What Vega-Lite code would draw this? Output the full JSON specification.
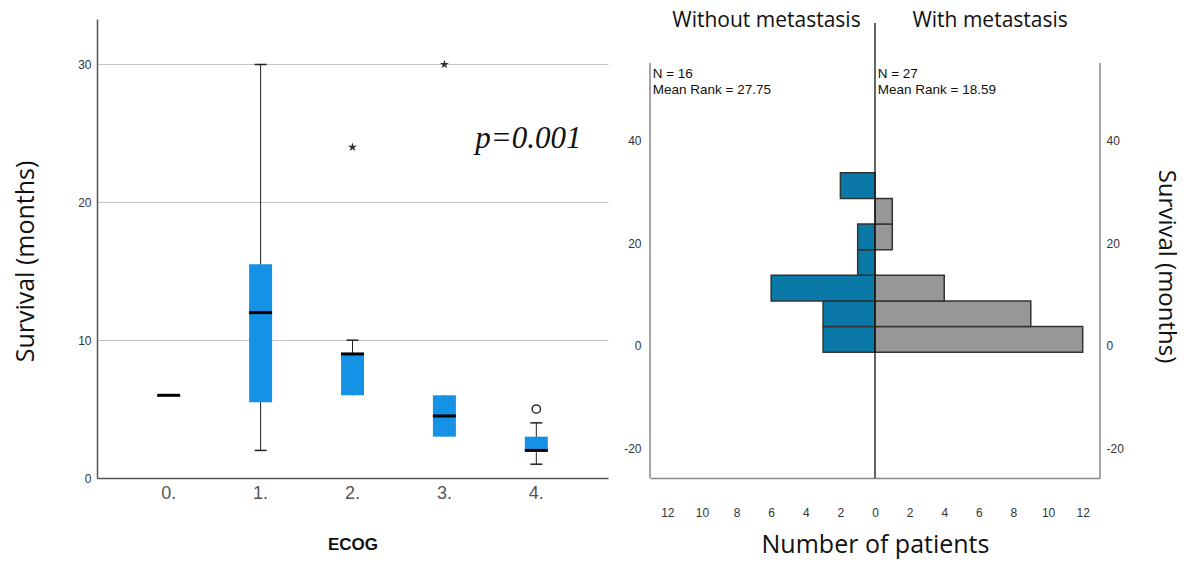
{
  "$schema": "https://vega.github.io/schema/vega-lite/v6.json",
  "background": "white",
  "padding": {"left": 13, "top": 10, "right": 6, "bottom": 6},
  "config": {"view": {"stroke": null}, "font": "Liberation Sans", "axis": {"labelOverlap": false}},
  "spacing": 42,
  "bounds": "flush",
  "datasets": {
    "boxes": [
      {"ecog": "0.", "lower": 6, "q1": 6, "median": 6, "q3": 6, "upper": 6},
      {"ecog": "1.", "lower": 2, "q1": 5.5, "median": 12, "q3": 15.5, "upper": 30},
      {"ecog": "2.", "lower": 6, "q1": 6, "median": 9, "q3": 9, "upper": 10},
      {"ecog": "3.", "lower": 3, "q1": 3, "median": 4.5, "q3": 6, "upper": 6},
      {"ecog": "4.", "lower": 1, "q1": 2, "median": 2, "q3": 3, "upper": 4}
    ],
    "outliers": [
      {"ecog": "2.", "survival": 24, "kind": "extreme"},
      {"ecog": "3.", "survival": 30, "kind": "extreme"},
      {"ecog": "4.", "survival": 5, "kind": "outlier"}
    ],
    "hist": [
      {"group": "Without metastasis", "bin_start": -1.2, "bin_end": 3.8, "count": 3},
      {"group": "Without metastasis", "bin_start": 3.8, "bin_end": 8.8, "count": 3},
      {"group": "Without metastasis", "bin_start": 8.8, "bin_end": 13.8, "count": 6},
      {"group": "Without metastasis", "bin_start": 13.8, "bin_end": 18.8, "count": 1},
      {"group": "Without metastasis", "bin_start": 18.8, "bin_end": 23.8, "count": 1},
      {"group": "Without metastasis", "bin_start": 28.8, "bin_end": 33.8, "count": 2},
      {"group": "With metastasis", "bin_start": -1.2, "bin_end": 3.8, "count": 12},
      {"group": "With metastasis", "bin_start": 3.8, "bin_end": 8.8, "count": 9},
      {"group": "With metastasis", "bin_start": 8.8, "bin_end": 13.8, "count": 4},
      {"group": "With metastasis", "bin_start": 18.8, "bin_end": 23.8, "count": 1},
      {"group": "With metastasis", "bin_start": 23.8, "bin_end": 28.8, "count": 1}
    ]
  },
  "hconcat": [
    {
      "width": 511,
      "height": 459,
      "layer": [
        {
          "data": {"name": "boxes"},
          "mark": {"type": "rule", "color": "#222", "strokeWidth": 1},
          "encoding": {
            "x": {
              "field": "ecog", "type": "nominal",
              "scale": {"paddingOuter": 0.28, "paddingInner": 0},
              "axis": {
                "title": "ECOG", "titleFont": "Liberation Sans", "titleFontWeight": "bold", "titleFontSize": 17, "titleColor": "#111", "titlePadding": 34,
                "labelFont": "Liberation Sans", "labelFontSize": 18, "labelColor": "#555", "labelAngle": 0, "labelPadding": 6,
                "ticks": false, "domainColor": "#555", "domainWidth": 1.5
              }
            },
            "y": {
              "field": "lower", "type": "quantitative",
              "scale": {"domain": [0, 33.3], "nice": false, "zero": false},
              "axis": {
                "title": "Survival (months)", "titleFont": "Open Sans", "titleFontWeight": "normal", "titleFontSize": 25, "titleColor": "#111", "titlePadding": 39, "titleY": 242,
                "values": [0, 10, 20, 30], "labelFont": "Liberation Sans", "labelFontSize": 12, "labelColor": "#333", "labelPadding": 6,
                "ticks": false, "domainColor": "#555", "domainWidth": 1.5,
                "grid": true, "gridColor": "#c4c4c4", "gridWidth": 1.2
              }
            },
            "y2": {"field": "upper"}
          }
        },
        {
          "data": {"name": "boxes"},
          "transform": [{"filter": "datum.upper > datum.q3"}],
          "mark": {"type": "tick", "color": "#222", "thickness": 1.5, "size": 12, "opacity": 1},
          "encoding": {
            "x": {"field": "ecog", "type": "nominal"},
            "y": {"field": "upper", "type": "quantitative"}
          }
        },
        {
          "data": {"name": "boxes"},
          "transform": [{"filter": "datum.lower < datum.q1"}],
          "mark": {"type": "tick", "color": "#222", "thickness": 1.5, "size": 12, "opacity": 1},
          "encoding": {
            "x": {"field": "ecog", "type": "nominal"},
            "y": {"field": "lower", "type": "quantitative"}
          }
        },
        {
          "data": {"name": "boxes"},
          "transform": [{"filter": "datum.q3 > datum.q1"}],
          "mark": {"type": "bar", "color": "#1591e6", "size": 23, "opacity": 1},
          "encoding": {
            "x": {"field": "ecog", "type": "nominal"},
            "y": {"field": "q1", "type": "quantitative"},
            "y2": {"field": "q3"}
          }
        },
        {
          "data": {"name": "boxes"},
          "mark": {"type": "tick", "color": "#000", "thickness": 3, "size": 23, "opacity": 1},
          "encoding": {
            "x": {"field": "ecog", "type": "nominal"},
            "y": {"field": "median", "type": "quantitative"}
          }
        },
        {
          "data": {"name": "outliers"},
          "transform": [{"filter": "datum.kind == 'extreme'"}],
          "mark": {"type": "point", "shape": "M0,-1L0.22,-0.3L0.95,-0.31L0.36,0.12L0.59,0.81L0,0.38L-0.59,0.81L-0.36,0.12L-0.95,-0.31L-0.22,-0.3Z", "filled": true, "color": "#333", "size": 90, "opacity": 1},
          "encoding": {
            "x": {"field": "ecog", "type": "nominal"},
            "y": {"field": "survival", "type": "quantitative"}
          }
        },
        {
          "data": {"name": "outliers"},
          "transform": [{"filter": "datum.kind == 'outlier'"}],
          "mark": {"type": "point", "shape": "circle", "filled": false, "color": "#333", "strokeWidth": 1.5, "size": 70, "opacity": 1},
          "encoding": {
            "x": {"field": "ecog", "type": "nominal"},
            "y": {"field": "survival", "type": "quantitative"}
          }
        },
        {
          "data": {"values": [{"ecog": "4.", "survival": 24.6, "label": "p=0.001"}]},
          "mark": {"type": "text", "font": "Liberation Serif", "fontStyle": "italic", "fontSize": 31, "align": "center", "baseline": "middle", "dx": -8, "color": "#111"},
          "encoding": {
            "x": {"field": "ecog", "type": "nominal"},
            "y": {"field": "survival", "type": "quantitative"},
            "text": {"field": "label"}
          }
        }
      ]
    },
    {
      "width": 450,
      "height": 459,
      "layer": [
        {
          "data": {"name": "hist"},
          "transform": [{"calculate": "datum.group == 'Without metastasis' ? -datum.count : datum.count", "as": "signed"}],
          "mark": {"type": "bar", "stroke": "#333", "strokeWidth": 1.5, "opacity": 1},
          "encoding": {
            "y": {
              "field": "bin_start", "type": "quantitative",
              "scale": {"domain": [-25.76, 63.8], "nice": false, "zero": false},
              "axis": {
                "orient": "left", "title": null, "values": [-20, 0, 20, 40],
                "labelExpr": "datum.value < 0 ? '-' + abs(datum.value) : '' + datum.value",
                "labelFont": "Liberation Sans", "labelFontSize": 12, "labelColor": "#333", "labelPadding": 9,
                "domain": false, "ticks": false, "grid": false
              }
            },
            "y2": {"field": "bin_end"},
            "x": {
              "field": "signed", "type": "quantitative",
              "scale": {"domain": [-13, 13], "nice": false, "zero": false},
              "axis": {
                "title": "Number of patients", "titleFont": "Open Sans", "titleFontWeight": "normal", "titleFontSize": 25, "titleColor": "#111", "titlePadding": 14,
                "values": [-12, -10, -8, -6, -4, -2, 0, 2, 4, 6, 8, 10, 12], "tickCount": 30, "labelExpr": "'' + abs(datum.value)", "labelOverlap": false,
                "labelFont": "Liberation Sans", "labelFontSize": 12, "labelColor": "#333", "labelPadding": 29,
                "ticks": false, "grid": false, "domainColor": "#888", "domainWidth": 1.5
              }
            },
            "x2": {"datum": 0},
            "color": {
              "field": "group", "type": "nominal",
              "scale": {"domain": ["Without metastasis", "With metastasis"], "range": ["#0b79a8", "#979797"]},
              "legend": null
            }
          }
        },
        {
          "data": {"values": [{"side": -13, "bottom": -25.76, "top": 55.2}, {"side": 13, "bottom": -25.76, "top": 55.2}]},
          "mark": {"type": "rule", "color": "#888", "strokeWidth": 1.5},
          "encoding": {
            "x": {"field": "side", "type": "quantitative"},
            "y": {"field": "bottom", "type": "quantitative", "axis": null},
            "y2": {"field": "top"}
          }
        },
        {
          "data": {"values": [{"side": 0, "bottom": -25.76, "top": 63.0}]},
          "mark": {"type": "rule", "color": "#111", "strokeWidth": 1.3},
          "encoding": {
            "x": {"field": "side", "type": "quantitative"},
            "y": {"field": "bottom", "type": "quantitative", "axis": null},
            "y2": {"field": "top"}
          }
        },
        {
          "data": {"values": [
            {"pos": -12.9, "height": 54.4, "label": "N = 16\nMean Rank = 27.75"},
            {"pos": 0.1, "height": 54.4, "label": "N = 27\nMean Rank = 18.59"}
          ]},
          "mark": {"type": "text", "align": "left", "baseline": "top", "font": "Liberation Sans", "fontSize": 13.5, "lineBreak": "\n", "lineHeight": 16, "color": "#111", "dx": 1},
          "encoding": {
            "x": {"field": "pos", "type": "quantitative"},
            "y": {"field": "height", "type": "quantitative", "axis": null},
            "text": {"field": "label"}
          }
        },
        {
          "data": {"values": [
            {"pos": -6.27, "height": 63.4, "label": "Without metastasis"},
            {"pos": 6.65, "height": 63.4, "label": "With metastasis"}
          ]},
          "mark": {"type": "text", "align": "center", "baseline": "middle", "font": "Open Sans", "fontSize": 21, "color": "#111"},
          "encoding": {
            "x": {"field": "pos", "type": "quantitative"},
            "y": {"field": "height", "type": "quantitative", "axis": null},
            "text": {"field": "label"}
          }
        },
        {
          "data": {"values": [{"pos": 13, "height": 0}]},
          "mark": {"type": "point", "opacity": 0},
          "encoding": {
            "x": {"field": "pos", "type": "quantitative"},
            "y": {
              "field": "height", "type": "quantitative",
              "axis": {
                "orient": "right", "title": "Survival (months)", "values": [-20, 0, 20, 40],
                "labelExpr": "datum.value < 0 ? '-' + abs(datum.value) : '' + datum.value",
                "titleFont": "Open Sans", "titleFontWeight": "normal", "titleFontSize": 24, "titleColor": "#111", "titlePadding": 30, "titleY": 247,
                "labelFont": "Liberation Sans", "labelFontSize": 12, "labelColor": "#333", "labelPadding": 6,
                "domain": false, "ticks": false, "grid": false
              }
            }
          }
        }
      ],
      "resolve": {"axis": {"y": "independent"}}
    }
  ]
}
